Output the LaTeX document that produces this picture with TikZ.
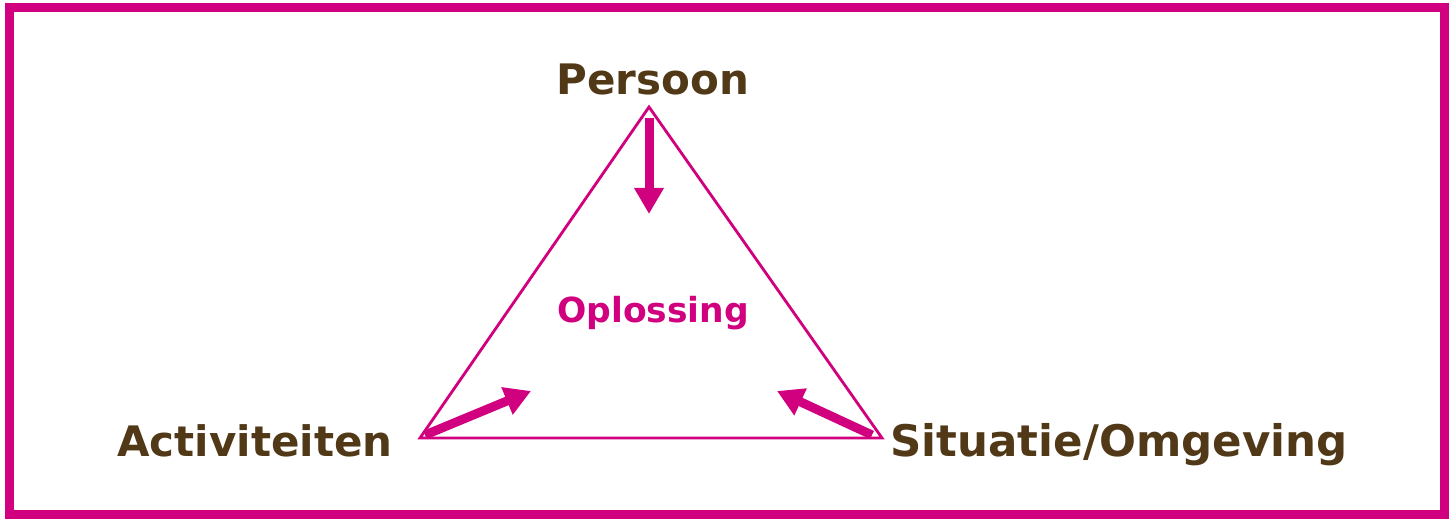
\documentclass[tikz,border=0pt]{standalone}
\usepackage{fontspec}
\setmainfont{DejaVu Sans}
\usetikzlibrary{arrows.meta}
\definecolor{mag}{HTML}{D0007E}
\definecolor{brn}{HTML}{513817}
\begin{document}
\begin{tikzpicture}[x=1pt,y=-1pt,
  lbl/.style={text=brn,font=\bfseries\fontsize{42}{46}\selectfont,inner sep=0pt,anchor=base},
  edge/.style={draw=mag,line width=2.8pt},
  bigarrow/.style={draw=mag,line width=9pt,-{Triangle[length=26pt,width=28pt]}}]
\useasboundingbox (0,0) rectangle (1453,521);
\draw[mag,line width=9pt] (9.5,7.5) rectangle (1444,514.5);
\coordinate (top) at (649,107);
\coordinate (bl) at (420,438);
\coordinate (br) at (882,438);
\draw[edge,line join=miter] (top) -- (br) -- (bl) -- cycle;
\coordinate (a1s) at (649,118);
\coordinate (a1e) at (649,214);
\coordinate (a2s) at (425,435);
\coordinate (a2e) at (531,391);
\coordinate (a3s) at (872,435);
\coordinate (a3e) at (777,391);
\draw[bigarrow] (a1s) -- (a1e);
\draw[bigarrow] (a2s) -- (a2e);
\draw[bigarrow] (a3s) -- (a3e);
\node[lbl] (persoon) at (653,95) {Persoon};
\node[lbl] (act) at (255,456) {Activiteiten};
\node[lbl,font=\bfseries\fontsize{43.5}{46}\selectfont] (sit) at (1119,456) {Situatie/Omgeving};
\node[text=mag,font=\bfseries\fontsize{34.5}{38}\selectfont,inner sep=0pt,anchor=base] (opl) at (653,322) {Oplossing};
\end{tikzpicture}
\end{document}
